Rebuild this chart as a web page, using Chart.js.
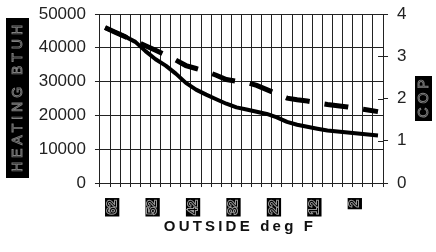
<!DOCTYPE html>
<html><head><meta charset="utf-8">
<script src="https://cdn.jsdelivr.net/npm/chart.js@4/dist/chart.umd.min.js"></script>
<style>html,body{margin:0;padding:0;background:#fff}#wrap{width:436px;height:252px}</style>
</head><body><div id="wrap"><canvas id="c" width="436" height="252"></canvas></div>
<script>
// Outside temperature categories (deg F), one per grid column
const categories = [62, 59.5, 57, 54.5, 52, 49.5, 47, 44.5, 42, 39.5, 37, 34.5, 32, 29.5, 27, 24.5, 22, 19.5, 17, 14.5, 12, 9.5, 7, 4.5, 2, -0.5, -3, -5.5];
// Tick labels actually shown on the x axis
const shownLabels = [62, 52, 42, 32, 22, 12, 2];
// Heating capacity (BTUH) - solid line, left axis
const heatingBtuh = [45860, 44620, 43310, 41750, 39020, 36630, 34730, 32370, 29620, 27630, 26150, 24790, 23460, 22370, 21750, 21100, 20440, 19440, 18080, 17250, 16630, 16070, 15560, 15270, 14970, 14670, 14380, 14080];
// Coefficient of performance - dashed line, right axis
const cop = [3.68, 3.57, 3.46, 3.36, 3.25, 3.14, 3.03, 2.91, 2.78, 2.71, 2.64, 2.55, 2.45, 2.41, 2.38, 2.31, 2.21, 2.11, 2.01, 1.97, 1.94, 1.90, 1.86, 1.83, 1.80, 1.76, 1.73, 1.69];
// Axis ranges
const leftAxis = {min: 0, max: 50000, step: 10000};
const rightAxis = {min: 0, max: 4, step: 1};
const titles = {left: 'HEATING BTUH', right: 'COP', bottom: 'OUTSIDE deg F'};

const FONT = 'Arial, "Liberation Sans", sans-serif';
const GRID = '#222';

const titlePlugin = {
  id: 'titles',
  afterDraw(chart) {
    const ctx = chart.ctx;
    const a = chart.chartArea;
    const cy = (a.top + a.bottom) / 2;
    // left title
    ctx.save();
    ctx.fillStyle = '#000';
    ctx.fillRect(6, 18, 23, 160);
    ctx.translate(17.5, cy);
    ctx.rotate(-Math.PI / 2);
    ctx.font = '14px ' + FONT;
    ctx.letterSpacing = '4px';
    ctx.textAlign = 'center';
    ctx.textBaseline = 'middle';
    ctx.strokeStyle = '#808080';
    ctx.lineWidth = 0.9;
    ctx.strokeText(titles.left, 2, 1);
    ctx.restore();
    // right title
    ctx.save();
    ctx.fillStyle = '#000';
    ctx.fillRect(415, 76, 17, 45);
    ctx.translate(423.5, cy);
    ctx.rotate(-Math.PI / 2);
    ctx.font = '14px ' + FONT;
    ctx.letterSpacing = '4px';
    ctx.textAlign = 'center';
    ctx.textBaseline = 'middle';
    ctx.strokeStyle = '#808080';
    ctx.lineWidth = 0.9;
    ctx.strokeText(titles.right, 2, 1);
    ctx.restore();
    // bottom title
    ctx.save();
    ctx.font = 'bold 15px ' + FONT;
    ctx.letterSpacing = '3.2px';
    ctx.textAlign = 'center';
    ctx.textBaseline = 'middle';
    ctx.fillStyle = '#111';
    ctx.fillText(titles.bottom, 240, 227);
    ctx.restore();
    // inner half of right-axis tick marks
    const y1 = chart.scales.y1;
    ctx.save();
    ctx.strokeStyle = GRID;
    ctx.lineWidth = 1;
    y1.ticks.forEach(t => {
      const py = Math.round(y1.getPixelForValue(t.value)) + 0.5;
      ctx.beginPath();
      ctx.moveTo(a.right - 5, py);
      ctx.lineTo(a.right, py);
      ctx.stroke();
    });
    ctx.restore();
  }
};

new Chart(document.getElementById('c'), {
  type: 'line',
  data: {
    labels: categories,
    datasets: [
      {
        label: titles.left, data: heatingBtuh, yAxisID: 'y',
        borderColor: '#000', borderWidth: 4, pointRadius: 0, tension: 0,
        borderJoinStyle: 'round', borderCapStyle: 'butt',
        clip: {left: -3, right: -4, top: 10, bottom: 10}
      },
      {
        label: titles.right, data: cop, yAxisID: 'y1',
        borderColor: '#000', borderWidth: 5, pointRadius: 0, tension: 0,
        borderDash: [24, 15], borderCapStyle: 'butt',
        clip: {left: -3, right: -4, top: 10, bottom: 10}
      }
    ]
  },
  options: {
    responsive: false,
    animation: false,
    devicePixelRatio: 1,
    layout: {padding: {left: 29.7, right: 20.5, top: 14, bottom: 24.5}},
    plugins: {legend: {display: false}, tooltip: {enabled: false}},
    scales: {
      x: {
        type: 'category',
        offset: true,
        grid: {offset: true, color: GRID, lineWidth: 1, tickLength: 4, tickColor: GRID},
        border: {color: GRID, width: 1},
        ticks: {
          autoSkip: false, minRotation: 90, maxRotation: 90, padding: 13,
          font: {family: FONT, size: 13, lineHeight: 1.1},
          color: '#000',
          textStrokeColor: '#999', textStrokeWidth: 2,
          showLabelBackdrop: c => shownLabels.includes(categories[c.index]),
          backdropColor: '#000',
          backdropPadding: {top: 0, bottom: 0, left: 2, right: 2},
          callback: (v, i) => shownLabels.includes(categories[i]) ? String(categories[i]) : ''
        }
      },
      y: {
        position: 'left', min: leftAxis.min, max: leftAxis.max,
        grid: {color: GRID, lineWidth: 1, tickLength: 5},
        border: {color: GRID, width: 1},
        ticks: {stepSize: leftAxis.step, padding: 9, color: '#222', font: {family: FONT, size: 17, lineHeight: 0.55},
          callback: v => String(v)}
      },
      y1: {
        position: 'right', min: rightAxis.min, max: rightAxis.max,
        grid: {drawOnChartArea: false, color: GRID, lineWidth: 1, tickLength: 5},
        border: {color: GRID, width: 1},
        ticks: {stepSize: rightAxis.step, padding: 9, color: '#222', font: {family: FONT, size: 17, lineHeight: 0.55},
          callback: v => String(v)}
      }
    }
  },
  plugins: [titlePlugin]
});
</script></body></html>
